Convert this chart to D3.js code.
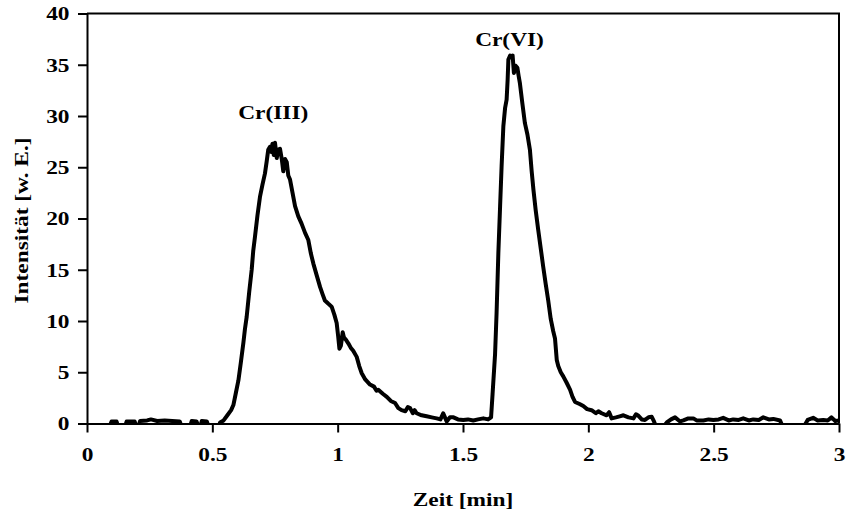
<!DOCTYPE html>
<html>
<head>
<meta charset="utf-8">
<script src="https://cdn.jsdelivr.net/npm/d3@7"></script>
<style>
  body { margin: 0; background: #fff; }
  text { font-family: "Liberation Serif", "Times New Roman", serif; font-weight: bold; fill: #000; }
</style>
</head>
<body>
<svg id="chart" width="846" height="513"></svg>
<script>
// retention time [min]
let zeit = [
  0.000, 0.090, 0.098, 0.118, 0.124, 0.152, 0.158, 0.190, 0.197, 0.205,
  0.212, 0.240, 0.255, 0.280, 0.310, 0.340, 0.370, 0.377, 0.411, 0.418,
  0.437, 0.444, 0.452, 0.458, 0.478, 0.485, 0.525, 0.531, 0.545, 0.560,
  0.575, 0.584, 0.594, 0.604, 0.614, 0.624, 0.630, 0.637, 0.647, 0.657,
  0.663, 0.670, 0.680, 0.690, 0.700, 0.710, 0.717, 0.723, 0.730, 0.735,
  0.740, 0.745, 0.750, 0.757, 0.763, 0.770, 0.777, 0.783, 0.790, 0.797,
  0.803, 0.810, 0.820, 0.830, 0.843, 0.856, 0.870, 0.883, 0.893, 0.903,
  0.917, 0.930, 0.940, 0.949, 0.962, 0.976, 0.987, 0.996, 1.002, 1.007,
  1.013, 1.020, 1.025, 1.032, 1.043, 1.052, 1.062, 1.076, 1.086, 1.096,
  1.110, 1.129, 1.145, 1.155, 1.162, 1.180, 1.196, 1.212, 1.229, 1.242,
  1.255, 1.270, 1.280, 1.289, 1.300, 1.307, 1.315, 1.335, 1.355, 1.375,
  1.395, 1.410, 1.421, 1.428, 1.435, 1.448, 1.462, 1.480, 1.501, 1.520,
  1.541, 1.560, 1.581, 1.600, 1.612, 1.618, 1.628, 1.634, 1.641, 1.648,
  1.654, 1.661, 1.668, 1.674, 1.678, 1.681, 1.688, 1.694, 1.698, 1.703,
  1.710, 1.717, 1.722, 1.727, 1.737, 1.747, 1.757, 1.767, 1.774, 1.781,
  1.790, 1.800, 1.810, 1.820, 1.830, 1.840, 1.850, 1.860, 1.867, 1.874,
  1.880, 1.890, 1.900, 1.913, 1.927, 1.937, 1.947, 1.965, 1.980, 1.995,
  2.013, 2.030, 2.040, 2.053, 2.073, 2.083, 2.093, 2.110, 2.125, 2.140,
  2.160, 2.180, 2.190, 2.200, 2.213, 2.226, 2.240, 2.253, 2.262, 2.270,
  2.300, 2.313, 2.330, 2.346, 2.366, 2.379, 2.399, 2.419, 2.432, 2.459,
  2.480, 2.499, 2.520, 2.538, 2.560, 2.578, 2.600, 2.618, 2.640, 2.658,
  2.680, 2.698, 2.720, 2.738, 2.765, 2.775, 2.860, 2.875, 2.897, 2.915,
  2.937, 2.955, 2.970, 2.985, 3.000
]

// intensity [w. E.] (slightly negative values sit below the axis and get clipped)
let intensitaet = [
  -0.3, -0.3, 0.2, 0.2, -0.3, -0.3, 0.2, 0.2, -0.3, -0.3,
  0.25, 0.3, 0.4, 0.25, 0.3, 0.25, 0.2, -0.3, -0.3, 0.25,
  0.2, -0.3, -0.3, 0.25, 0.2, -0.3, -0.3, 0.1, 0.3, 0.8,
  1.3, 1.8, 3.0, 4.2, 6.0, 7.9, 9.2, 10.4, 12.8, 15.0,
  16.8, 18.2, 20.3, 22.1, 23.3, 24.4, 25.6, 26.7, 27.0, 26.5,
  27.3, 26.2, 27.4, 25.9, 26.7, 26.8, 25.8, 24.6, 25.8, 25.5,
  24.2, 23.8, 22.5, 21.2, 20.2, 19.5, 18.6, 17.9, 16.6, 15.6,
  14.4, 13.3, 12.6, 12.0, 11.7, 11.4, 10.6, 9.8, 8.5, 7.3,
  7.6, 8.9, 8.4, 8.2, 7.8, 7.4, 7.1, 6.5, 5.6, 4.9,
  4.3, 3.8, 3.6, 3.2, 3.3, 2.9, 2.6, 2.2, 2.0, 1.5,
  1.3, 1.2, 1.6, 1.5, 1.0, 1.3, 1.0, 0.8, 0.7, 0.6,
  0.5, 0.4, 1.0, 0.6, 0.2, 0.6, 0.6, 0.4, 0.35, 0.4,
  0.3, 0.4, 0.5, 0.4, 0.6, 2.9, 6.8, 10.8, 16.6, 21.2,
  25.1, 29.0, 30.8, 31.6, 33.5, 35.5, 35.9, 35.8, 35.9, 34.2,
  34.9, 34.7, 33.9, 33.2, 31.2, 29.3, 28.2, 26.7, 24.6, 22.8,
  20.8, 18.9, 17.1, 15.3, 13.6, 12.0, 10.2, 9.0, 8.3, 6.2,
  5.6, 5.0, 4.6, 4.0, 3.3, 2.6, 2.1, 1.9, 1.7, 1.4,
  1.3, 1.0, 1.2, 1.0, 0.8, 1.1, 0.5, 0.6, 0.7, 0.8,
  0.6, 0.5, 0.9, 0.75, 0.4, 0.35, 0.6, 0.65, 0.2, -0.3,
  -0.3, 0.1, 0.4, 0.6, 0.2, 0.3, 0.5, 0.5, 0.3, 0.3,
  0.4, 0.35, 0.4, 0.55, 0.3, 0.4, 0.35, 0.5, 0.3, 0.4,
  0.35, 0.6, 0.4, 0.45, 0.3, -0.3, -0.3, 0.35, 0.55, 0.3,
  0.35, 0.3, 0.6, 0.25, 0.3
]

let xTicks = [0, 0.5, 1, 1.5, 2, 2.5, 3]
let yTicks = [0, 5, 10, 15, 20, 25, 30, 35, 40]

let peakNames = ["Cr(III)", "Cr(VI)"]
let peakZeit = [0.743, 1.6855]
let peakLabelY = [29.7, 36.8]

let margin = {left: 87, top: 13.5, right: 7, bottom: 89.5}
let width = 846 - margin.left - margin.right
let height = 513 - margin.top - margin.bottom
let stretch = 1.23

let svg = d3.select("#chart")
let g = svg.append("g").attr("transform", "translate(" + margin.left + "," + margin.top + ")")

let x = d3.scaleLinear().domain([0, 3]).range([0, width])
let y = d3.scaleLinear().domain([0, 40]).range([height, 0])

g.append("clipPath").attr("id", "plotclip")
  .append("rect").attr("width", width).attr("height", height)

let points = zeit.map((t, i) => [t, intensitaet[i]])

let line = d3.line()
  .x(d => x(d[0]))
  .y(d => y(d[1]))

g.append("path")
  .datum(points)
  .attr("clip-path", "url(#plotclip)")
  .attr("fill", "none")
  .attr("stroke", "#000")
  .attr("stroke-width", 4)
  .attr("stroke-linejoin", "round")
  .attr("d", line)

// frame: top and right
g.append("path")
  .attr("fill", "none")
  .attr("stroke", "#000")
  .attr("stroke-width", 2)
  .attr("d", "M0," + y(40) + "H" + x(3) + "V" + y(0))

let xAxis = g.append("g")
  .attr("transform", "translate(0," + height + ")")
  .call(d3.axisBottom(x).tickValues(xTicks).tickSize(9).tickSizeOuter(0).tickFormat(d3.format("")))

let yAxis = g.append("g")
  .call(d3.axisLeft(y).tickValues(yTicks).tickSize(9).tickSizeOuter(0))

for (let ax of [xAxis, yAxis]) {
  ax.select(".domain").attr("stroke", "#000").attr("stroke-width", 2)
  ax.selectAll(".tick line").attr("stroke", "#000").attr("stroke-width", 2)
  ax.selectAll(".tick text")
    .attr("fill", "#000")
    .attr("font-family", "'Liberation Serif', 'Times New Roman', serif")
    .attr("font-weight", "bold")
    .attr("font-size", 19)
}

xAxis.selectAll(".tick text")
  .attr("y", 0).attr("dy", 0)
  .attr("text-anchor", "middle")
  .attr("transform", "translate(0,37.5) scale(" + stretch + ",1)")

yAxis.selectAll(".tick text")
  .attr("x", 0).attr("dy", "0.33em")
  .attr("text-anchor", "end")
  .attr("transform", "translate(-17.5,0) scale(" + stretch + ",1)")

// axis titles
svg.append("text")
  .attr("text-anchor", "middle")
  .attr("font-size", 19)
  .attr("transform", "translate(" + (margin.left + x(1.5)) + ",506) scale(" + stretch + ",1)")
  .text("Zeit [min]")

svg.append("text")
  .attr("text-anchor", "middle")
  .attr("font-size", 19)
  .attr("transform", "translate(28," + (margin.top + height / 2 + 2) + ") rotate(-90) scale(" + stretch + ",1)")
  .text("Intensität [w. E.]")

// peak labels
g.selectAll(".peak")
  .data(peakNames)
  .enter()
  .append("text")
  .attr("class", "peak")
  .attr("text-anchor", "middle")
  .attr("font-size", 19)
  .attr("transform", (d, i) => "translate(" + x(peakZeit[i]) + "," + y(peakLabelY[i]) + ") scale(" + stretch + ",1)")
  .text(d => d)
</script>
</body>
</html>
